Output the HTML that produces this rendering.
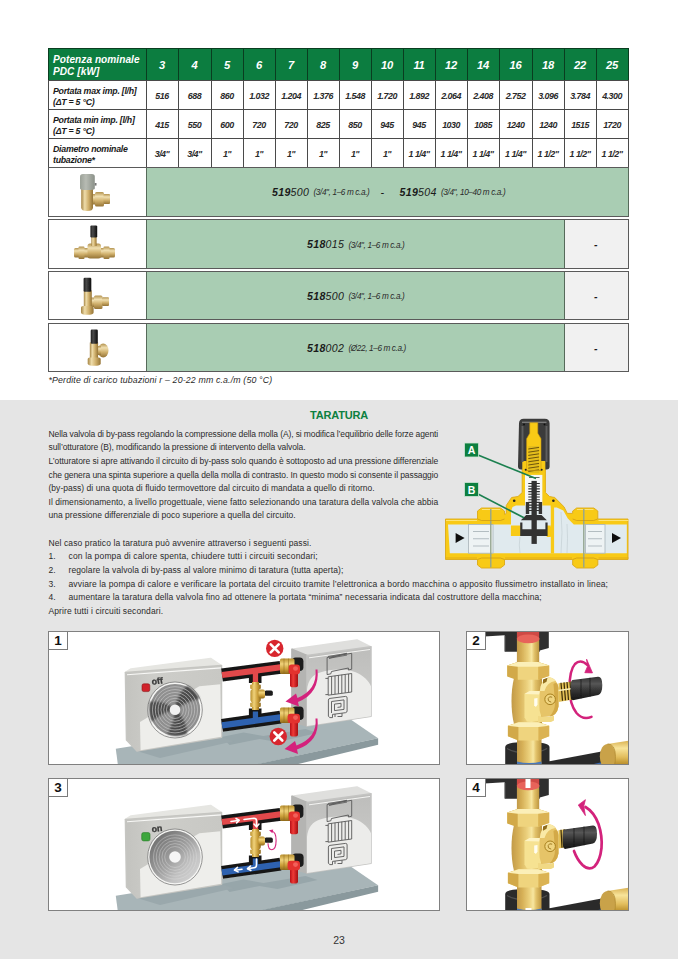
<!DOCTYPE html>
<html>
<head>
<meta charset="utf-8">
<title>Taratura</title>
<style>
html,body{margin:0;padding:0;}
body{width:678px;height:959px;position:relative;overflow:hidden;background:#fff;font-family:"Liberation Sans",sans-serif;color:#1a1a1a;}
.abs{position:absolute;}
#gray{left:0;top:400px;width:678px;height:559px;background:#e5e5e5;}
.cell{position:absolute;box-sizing:border-box;border:1px solid #3c3c3c;background:#fff;}
.hd{background:#0b7a3d;border-color:#06341b;}
.num{font-style:italic;font-weight:bold;font-size:8.9px;text-align:center;color:#2a2a2a;letter-spacing:-0.5px;}
.hnum{font-style:italic;font-weight:bold;font-size:11.2px;text-align:center;color:#fff;letter-spacing:-0.3px;}
.lab{font-style:italic;font-weight:bold;font-size:8.8px;line-height:10.8px;color:#1a1a1a;white-space:nowrap;letter-spacing:-0.27px;}
.prow{position:absolute;left:48px;width:581px;box-sizing:border-box;border:1px solid #5a5a5a;background:#fff;}
.grn{position:absolute;top:0;bottom:0;background:#a9cdb3;border-left:1px solid #566a5a;border-right:1px solid #566a5a;}
.code{position:absolute;white-space:nowrap;font-style:italic;font-size:10.6px;color:#1a1a1a;letter-spacing:0.3px;}
.code b{font-weight:bold;}
.code small{font-size:8.2px;letter-spacing:-0.36px;color:#2a2a2a;margin-left:1px;position:relative;top:-0.3px;}
.p{position:absolute;white-space:nowrap;font-size:8.5px;color:#2b2b2b;}
.box{position:absolute;box-sizing:border-box;border:1px solid #808080;background:#fff;overflow:hidden;}
.tag{position:absolute;left:0;top:0;width:18px;height:17px;border-right:1px solid #7a7a7a;border-bottom:1px solid #7a7a7a;background:#fff;font-weight:bold;font-size:13.5px;line-height:17px;text-align:center;color:#111;}
</style>
</head>
<body>

<div class="abs" style="left:48px;top:48px;width:581px;height:33px;background:#0c7d40"></div>
<div class="abs" style="left:48px;top:48px;width:581px;height:1px;background:#0a3d20"></div>
<div class="abs" style="left:48px;top:80px;width:581px;height:1px;background:#4a4a4a"></div>
<div class="abs" style="left:48px;top:109px;width:581px;height:1px;background:#4a4a4a"></div>
<div class="abs" style="left:48px;top:138px;width:581px;height:1px;background:#4a4a4a"></div>
<div class="abs" style="left:48px;top:167px;width:581px;height:1px;background:#4a4a4a"></div>
<div class="abs" style="left:48px;top:48px;width:1px;height:120px;background:#4a4a4a"></div>
<div class="abs" style="left:48px;top:48px;width:1px;height:32px;background:#0a3d20"></div>
<div class="abs" style="left:146px;top:48px;width:1px;height:120px;background:#4a4a4a"></div>
<div class="abs" style="left:146px;top:48px;width:1px;height:32px;background:#0a3d20"></div>
<div class="abs" style="left:178px;top:48px;width:1px;height:120px;background:#4a4a4a"></div>
<div class="abs" style="left:178px;top:48px;width:1px;height:32px;background:#0a3d20"></div>
<div class="abs" style="left:211px;top:48px;width:1px;height:120px;background:#4a4a4a"></div>
<div class="abs" style="left:211px;top:48px;width:1px;height:32px;background:#0a3d20"></div>
<div class="abs" style="left:243px;top:48px;width:1px;height:120px;background:#4a4a4a"></div>
<div class="abs" style="left:243px;top:48px;width:1px;height:32px;background:#0a3d20"></div>
<div class="abs" style="left:275px;top:48px;width:1px;height:120px;background:#4a4a4a"></div>
<div class="abs" style="left:275px;top:48px;width:1px;height:32px;background:#0a3d20"></div>
<div class="abs" style="left:307px;top:48px;width:1px;height:120px;background:#4a4a4a"></div>
<div class="abs" style="left:307px;top:48px;width:1px;height:32px;background:#0a3d20"></div>
<div class="abs" style="left:339px;top:48px;width:1px;height:120px;background:#4a4a4a"></div>
<div class="abs" style="left:339px;top:48px;width:1px;height:32px;background:#0a3d20"></div>
<div class="abs" style="left:371px;top:48px;width:1px;height:120px;background:#4a4a4a"></div>
<div class="abs" style="left:371px;top:48px;width:1px;height:32px;background:#0a3d20"></div>
<div class="abs" style="left:403px;top:48px;width:1px;height:120px;background:#4a4a4a"></div>
<div class="abs" style="left:403px;top:48px;width:1px;height:32px;background:#0a3d20"></div>
<div class="abs" style="left:435px;top:48px;width:1px;height:120px;background:#4a4a4a"></div>
<div class="abs" style="left:435px;top:48px;width:1px;height:32px;background:#0a3d20"></div>
<div class="abs" style="left:467px;top:48px;width:1px;height:120px;background:#4a4a4a"></div>
<div class="abs" style="left:467px;top:48px;width:1px;height:32px;background:#0a3d20"></div>
<div class="abs" style="left:499px;top:48px;width:1px;height:120px;background:#4a4a4a"></div>
<div class="abs" style="left:499px;top:48px;width:1px;height:32px;background:#0a3d20"></div>
<div class="abs" style="left:532px;top:48px;width:1px;height:120px;background:#4a4a4a"></div>
<div class="abs" style="left:532px;top:48px;width:1px;height:32px;background:#0a3d20"></div>
<div class="abs" style="left:564px;top:48px;width:1px;height:120px;background:#4a4a4a"></div>
<div class="abs" style="left:564px;top:48px;width:1px;height:32px;background:#0a3d20"></div>
<div class="abs" style="left:596px;top:48px;width:1px;height:120px;background:#4a4a4a"></div>
<div class="abs" style="left:596px;top:48px;width:1px;height:32px;background:#0a3d20"></div>
<div class="abs" style="left:628px;top:48px;width:1px;height:120px;background:#4a4a4a"></div>
<div class="abs" style="left:628px;top:48px;width:1px;height:32px;background:#0a3d20"></div>
<div class="abs lab" id="lab0" style="left:53px;top:54.00px;color:#fff;font-size:10.1px;line-height:12.3px;letter-spacing:0.05px">Potenza nominale<br>PDC [kW]</div>
<div class="abs hnum" style="left:146px;top:59.00px;width:32px;line-height:12px">3</div>
<div class="abs hnum" style="left:178px;top:59.00px;width:33px;line-height:12px">4</div>
<div class="abs hnum" style="left:211px;top:59.00px;width:32px;line-height:12px">5</div>
<div class="abs hnum" style="left:243px;top:59.00px;width:32px;line-height:12px">6</div>
<div class="abs hnum" style="left:275px;top:59.00px;width:32px;line-height:12px">7</div>
<div class="abs hnum" style="left:307px;top:59.00px;width:32px;line-height:12px">8</div>
<div class="abs hnum" style="left:339px;top:59.00px;width:32px;line-height:12px">9</div>
<div class="abs hnum" style="left:371px;top:59.00px;width:32px;line-height:12px">10</div>
<div class="abs hnum" style="left:403px;top:59.00px;width:32px;line-height:12px">11</div>
<div class="abs hnum" style="left:435px;top:59.00px;width:32px;line-height:12px">12</div>
<div class="abs hnum" style="left:467px;top:59.00px;width:32px;line-height:12px">14</div>
<div class="abs hnum" style="left:499px;top:59.00px;width:33px;line-height:12px">16</div>
<div class="abs hnum" style="left:532px;top:59.00px;width:32px;line-height:12px">18</div>
<div class="abs hnum" style="left:564px;top:59.00px;width:32px;line-height:12px">22</div>
<div class="abs hnum" style="left:596px;top:59.00px;width:32px;line-height:12px">25</div>
<div class="abs lab" id="lab1" style="left:53px;top:86.00px">Portata max imp. [l/h]<br>(&Delta;T = 5 &deg;C)</div>
<div class="abs num" style="left:146px;top:91.10px;width:32px;line-height:10px">516</div>
<div class="abs num" style="left:178px;top:91.10px;width:33px;line-height:10px">688</div>
<div class="abs num" style="left:211px;top:91.10px;width:32px;line-height:10px">860</div>
<div class="abs num" style="left:243px;top:91.10px;width:32px;line-height:10px">1.032</div>
<div class="abs num" style="left:275px;top:91.10px;width:32px;line-height:10px">1.204</div>
<div class="abs num" style="left:307px;top:91.10px;width:32px;line-height:10px">1.376</div>
<div class="abs num" style="left:339px;top:91.10px;width:32px;line-height:10px">1.548</div>
<div class="abs num" style="left:371px;top:91.10px;width:32px;line-height:10px">1.720</div>
<div class="abs num" style="left:403px;top:91.10px;width:32px;line-height:10px">1.892</div>
<div class="abs num" style="left:435px;top:91.10px;width:32px;line-height:10px">2.064</div>
<div class="abs num" style="left:467px;top:91.10px;width:32px;line-height:10px">2.408</div>
<div class="abs num" style="left:499px;top:91.10px;width:33px;line-height:10px">2.752</div>
<div class="abs num" style="left:532px;top:91.10px;width:32px;line-height:10px">3.096</div>
<div class="abs num" style="left:564px;top:91.10px;width:32px;line-height:10px">3.784</div>
<div class="abs num" style="left:596px;top:91.10px;width:32px;line-height:10px">4.300</div>
<div class="abs lab" id="lab2" style="left:53px;top:115.00px">Portata min imp. [l/h]<br>(&Delta;T = 5 &deg;C)</div>
<div class="abs num" style="left:146px;top:120.10px;width:32px;line-height:10px">415</div>
<div class="abs num" style="left:178px;top:120.10px;width:33px;line-height:10px">550</div>
<div class="abs num" style="left:211px;top:120.10px;width:32px;line-height:10px">600</div>
<div class="abs num" style="left:243px;top:120.10px;width:32px;line-height:10px">720</div>
<div class="abs num" style="left:275px;top:120.10px;width:32px;line-height:10px">720</div>
<div class="abs num" style="left:307px;top:120.10px;width:32px;line-height:10px">825</div>
<div class="abs num" style="left:339px;top:120.10px;width:32px;line-height:10px">850</div>
<div class="abs num" style="left:371px;top:120.10px;width:32px;line-height:10px">945</div>
<div class="abs num" style="left:403px;top:120.10px;width:32px;line-height:10px">945</div>
<div class="abs num" style="left:435px;top:120.10px;width:32px;line-height:10px">1030</div>
<div class="abs num" style="left:467px;top:120.10px;width:32px;line-height:10px">1085</div>
<div class="abs num" style="left:499px;top:120.10px;width:33px;line-height:10px">1240</div>
<div class="abs num" style="left:532px;top:120.10px;width:32px;line-height:10px">1240</div>
<div class="abs num" style="left:564px;top:120.10px;width:32px;line-height:10px">1515</div>
<div class="abs num" style="left:596px;top:120.10px;width:32px;line-height:10px">1720</div>
<div class="abs lab" id="lab3" style="left:53px;top:144.00px">Diametro nominale<br>tubazione*</div>
<div class="abs num" style="left:146px;top:149.10px;width:32px;line-height:10px">3/4&quot;</div>
<div class="abs num" style="left:178px;top:149.10px;width:33px;line-height:10px">3/4&quot;</div>
<div class="abs num" style="left:211px;top:149.10px;width:32px;line-height:10px">1&quot;</div>
<div class="abs num" style="left:243px;top:149.10px;width:32px;line-height:10px">1&quot;</div>
<div class="abs num" style="left:275px;top:149.10px;width:32px;line-height:10px">1&quot;</div>
<div class="abs num" style="left:307px;top:149.10px;width:32px;line-height:10px">1&quot;</div>
<div class="abs num" style="left:339px;top:149.10px;width:32px;line-height:10px">1&quot;</div>
<div class="abs num" style="left:371px;top:149.10px;width:32px;line-height:10px">1&quot;</div>
<div class="abs num" style="left:403px;top:149.10px;width:32px;line-height:10px">1 1/4&quot;</div>
<div class="abs num" style="left:435px;top:149.10px;width:32px;line-height:10px">1 1/4&quot;</div>
<div class="abs num" style="left:467px;top:149.10px;width:32px;line-height:10px">1 1/4&quot;</div>
<div class="abs num" style="left:499px;top:149.10px;width:33px;line-height:10px">1 1/4&quot;</div>
<div class="abs num" style="left:532px;top:149.10px;width:32px;line-height:10px">1 1/2&quot;</div>
<div class="abs num" style="left:564px;top:149.10px;width:32px;line-height:10px">1 1/2&quot;</div>
<div class="abs num" style="left:596px;top:149.10px;width:32px;line-height:10px">1 1/2&quot;</div>
<div class="prow" style="top:167px;height:50px">
  <div class="grn" style="left:97px;right:-1px"></div>
  <div class="code" style="left:223px;top:17.6px"><b>519</b>500 <small>(3/4", 1&ndash;6 m c.a.)</small></div>
  <div class="code" style="left:331.5px;top:17.6px">-</div>
  <div class="code" style="left:350.5px;top:17.6px"><b>519</b>504 <small>(3/4", 10&ndash;40 m c.a.)</small></div>
</div>
<div class="prow" style="top:219px;height:50px">
  <div class="grn" style="left:97px;width:417px"></div>
  <div class="abs" style="left:516px;top:0;bottom:0;right:0;background:#f1f1f1"></div>
  <div class="code" style="left:258px;top:18px"><b>518</b>015 <small>(3/4", 1&ndash;6 m c.a.)</small></div>
  <div class="code" style="left:545px;top:18px;font-weight:bold">-</div>
</div>
<div class="prow" style="top:271px;height:49px">
  <div class="grn" style="left:97px;width:417px"></div>
  <div class="abs" style="left:516px;top:0;bottom:0;right:0;background:#f1f1f1"></div>
  <div class="code" style="left:258px;top:17.5px"><b>518</b>500 <small>(3/4", 1&ndash;6 m c.a.)</small></div>
  <div class="code" style="left:545px;top:17.5px;font-weight:bold">-</div>
</div>
<div class="prow" style="top:323px;height:49px">
  <div class="grn" style="left:97px;width:417px"></div>
  <div class="abs" style="left:516px;top:0;bottom:0;right:0;background:#f1f1f1"></div>
  <div class="code" style="left:258px;top:17.5px"><b>518</b>002 <small>(&Oslash;22, 1&ndash;6 m c.a.)</small></div>
  <div class="code" style="left:545px;top:17.5px;font-weight:bold">-</div>
</div>
<div class="abs" style="left:48.5px;top:375.3px;font-style:italic;font-size:8.8px;color:#2a2a2a;white-space:nowrap;letter-spacing:0.145px">*Perdite di carico tubazioni r &ndash; 20-22 mm c.a./m (50 &deg;C)</div>
<div class="abs" id="gray"></div>

<svg class="abs" style="left:49px;top:168px" width="97" height="204" viewBox="49 168 97 204">
<defs>
<linearGradient id="bv" x1="0" x2="1" y1="0" y2="0"><stop offset="0" stop-color="#a58443"/><stop offset=".3" stop-color="#eedcaa"/><stop offset=".62" stop-color="#d0b06c"/><stop offset="1" stop-color="#957436"/></linearGradient>
<linearGradient id="bh" x1="0" x2="0" y1="0" y2="1"><stop offset="0" stop-color="#b3924e"/><stop offset=".3" stop-color="#f0dfb0"/><stop offset=".62" stop-color="#d0b06c"/><stop offset="1" stop-color="#957436"/></linearGradient>
<linearGradient id="kv" x1="0" x2="1" y1="0" y2="0"><stop offset="0" stop-color="#1a1a1a"/><stop offset=".35" stop-color="#4a4a4a"/><stop offset="1" stop-color="#0d0d0d"/></linearGradient>
<linearGradient id="gv" x1="0" x2="1" y1="0" y2="0"><stop offset="0" stop-color="#9aa097"/><stop offset=".4" stop-color="#b7bbb3"/><stop offset="1" stop-color="#8b9189"/></linearGradient>
<filter id="sf" x="-10%" y="-10%" width="120%" height="120%"><feGaussianBlur stdDeviation="0.35"/></filter>
</defs>
<g filter="url(#sf)">
<!-- product 1 -->
<rect x="92" y="194" width="10" height="10.5" rx="1" fill="url(#bh)"/>
<rect x="95" y="192" width="9" height="14.5" rx="1.5" fill="url(#bh)"/>
<rect x="103.5" y="194" width="6.5" height="10" rx="1" fill="url(#bh)"/>
<path d="M81.2 188h11.8v19.5q0 3.5-5.9 3.5t-5.9-3.5z" fill="url(#bv)"/>
<rect x="94.5" y="183" width="2" height="2.6" fill="#777"/>
<path d="M80 176.5q0-2.5 3-2.5h8.8q3 0 3 2.500v12q0 1.500-7.400 1.500t-7.400-1.500z" fill="url(#gv)"/>
<!-- product 2 -->
<rect x="74" y="248" width="41" height="9.500" rx="1.5" fill="url(#bh)"/>
<rect x="78.500" y="246.500" width="6" height="12.500" rx="1" fill="url(#bh)"/>
<rect x="103.500" y="246.500" width="6" height="12.500" rx="1" fill="url(#bh)"/>
<rect x="87.500" y="243.500" width="13.500" height="15" rx="2.500" fill="url(#bh)"/>
<rect x="91.300" y="236" width="5.300" height="10" fill="url(#bv)"/>
<rect x="90.400" y="225.400" width="6.800" height="12" rx="1.200" fill="url(#kv)"/>
<!-- product 3 -->
<rect x="91" y="297.500" width="9" height="9.500" fill="url(#bh)"/>
<rect x="94" y="295.400" width="8.500" height="13.600" rx="1.500" fill="url(#bh)"/>
<rect x="102" y="297.300" width="7" height="8.700" rx="1" fill="url(#bh)"/>
<rect x="83.800" y="290.500" width="8" height="18" fill="url(#bv)"/>
<path d="M81 307.500q0-1.500 2-1.500h8.600q2 0 2 1.500v5q0 2.300-6.300 2.300t-6.300-2.300z" fill="url(#bv)"/>
<rect x="83.600" y="277.700" width="7.700" height="14" rx="1.200" fill="url(#kv)"/>
<!-- product 4 -->
<ellipse cx="103.200" cy="350.500" rx="5.300" ry="6.900" fill="url(#bh)"/>
<rect x="96" y="346" width="5" height="9" fill="url(#bh)"/>
<rect x="89.800" y="342.500" width="8.300" height="17" fill="url(#bv)"/>
<path d="M87.700 359q0-1.500 2-1.500h9q2 0 2 1.500v4.500q0 2.300-6.500 2.300t-6.500-2.300z" fill="url(#bv)"/>
<rect x="90.700" y="329.600" width="7.100" height="14.200" rx="1.200" fill="url(#kv)"/>
</g>
</svg>

<div class="abs" style="left:239px;width:200px;top:408.3px;text-align:center;font-weight:bold;font-size:11px;color:#0c8040;letter-spacing:-0.18px;line-height:14px">TARATURA</div>
<div class="p" style="left:48.5px;top:427.55px;letter-spacing:-0.117px;line-height:12px">Nella valvola di by-pass regolando la compressione della molla (A), si modifica l’equilibrio delle forze agenti</div>
<div class="p" style="left:48.5px;top:441.20px;letter-spacing:-0.090px;line-height:12px">sull’otturatore (B), modificando la pressione di intervento della valvola.</div>
<div class="p" style="left:48.5px;top:454.85px;letter-spacing:-0.065px;line-height:12px">L’otturatore si apre attivando il circuito di by-pass solo quando è sottoposto ad una pressione differenziale</div>
<div class="p" style="left:48.5px;top:468.50px;letter-spacing:-0.091px;line-height:12px">che genera una spinta superiore a quella della molla di contrasto. In questo modo si consente il passaggio</div>
<div class="p" style="left:48.5px;top:482.15px;letter-spacing:0.029px;line-height:12px">(by-pass) di una quota di fluido termovettore dal circuito di mandata a quello di ritorno.</div>
<div class="p" style="left:48.5px;top:495.80px;letter-spacing:0.049px;line-height:12px">Il dimensionamento, a livello progettuale, viene fatto selezionando una taratura della valvola che abbia</div>
<div class="p" style="left:48.5px;top:509.45px;letter-spacing:0.010px;line-height:12px">una pressione differenziale di poco superiore a quella del circuito.</div>
<div class="p" style="left:48.5px;top:536.75px;letter-spacing:0.099px;line-height:12px">Nel caso pratico la taratura può avvenire attraverso i seguenti passi.</div>
<div class="p" style="left:68.5px;top:550.40px;letter-spacing:0.153px;line-height:12px">con la pompa di calore spenta, chiudere tutti i circuiti secondari;</div>
<div class="p" style="left:48.5px;top:550.40px;line-height:12px">1.</div>
<div class="p" style="left:68.5px;top:564.05px;letter-spacing:0.087px;line-height:12px">regolare la valvola di by-pass al valore minimo di taratura (tutta aperta);</div>
<div class="p" style="left:48.5px;top:564.05px;line-height:12px">2.</div>
<div class="p" style="left:68.5px;top:577.70px;letter-spacing:0.133px;line-height:12px">avviare la pompa di calore e verificare la portata del circuito tramite l’elettronica a bordo macchina o apposito flussimetro installato in linea;</div>
<div class="p" style="left:48.5px;top:577.70px;line-height:12px">3.</div>
<div class="p" style="left:68.5px;top:591.35px;letter-spacing:0.125px;line-height:12px">aumentare la taratura della valvola fino ad ottenere la portata “minima” necessaria indicata dal costruttore della macchina;</div>
<div class="p" style="left:48.5px;top:591.35px;line-height:12px">4.</div>
<div class="p" style="left:48.5px;top:605.00px;letter-spacing:0.106px;line-height:12px">Aprire tutti i circuiti secondari.</div>

<svg class="abs" style="left:440px;top:405px" width="200" height="170" viewBox="440 405 200 170">
<defs>
<filter id="df" x="-5%" y="-5%" width="110%" height="110%"><feGaussianBlur stdDeviation="0.35"/></filter>
</defs>
<g filter="url(#df)">
<!-- yellow body silhouette -->
<path d="M445.500 519h32v-8l4-3h19l4 3v3.500l1.800-1.100v-8l5.300-7.900 6.400-1 4.200-4v-32h23.200v32l4.100 4 5.200 1 9.300 9.300 3.300 6.600h5.400v-2.400l4-3h17.100l4 3v8h30.200v40.500h-30.200v5.500l-4 3h-17.100l-4-3v-5.500h-68.200v5.500l-4 3h-19l-4-3v-5.500h-32z" fill="#f8ca18" stroke="#dca915" stroke-width="0.900" stroke-linejoin="round"/>
<!-- highlights on yellow -->
<path d="M446 520.500h31M598.500 520.500h30M482 509.500h18M577 509.500h16.500" stroke="#fde477" stroke-width="1.200"/>
<path d="M446 558h31M598.500 558h30M505 558h67" stroke="#e2ab12" stroke-width="1.200"/>
<!-- channels -->
<path d="M448 524.500h63v-13l1.500-4.500 3.500-1.500h9v-30.500h17.200v30.500h8.600v20h-4v11.500h4v-29.500h6l6.500 3 4.500 8 6 6h53v28.700h-177z" fill="#e0eaee"/>
<rect x="525" y="474.900" width="17.200" height="30" fill="#f6f8f8"/>
<!-- seat pieces -->
<path d="M510.900 525.400h10v10.600h-10z" fill="#f8ca18"/>
<path d="M550.800 505h3.300v48.500h-3.300z" fill="#f8ca18"/>
<path d="M546.800 527h5v9.500h-5z" fill="#f8ca18"/>
<!-- faint section lines -->
<path d="M520 537q-1.500 8 0 16M561 512q2 20 0 41M567 524q1 14 0 29" stroke="#b9c4c8" stroke-width="0.500" fill="none"/>
<!-- sleeves -->
<rect x="468.500" y="524.500" width="24.500" height="28.700" fill="#eef3f4" stroke="#a9b4b8" stroke-width="0.800"/>
<path d="M473 531.500h16M473 538.800h16M473 546h16" stroke="#b3bdc1" stroke-width="1.100"/>
<rect x="585.500" y="524.500" width="19.500" height="28.700" fill="#eef3f4" stroke="#a9b4b8" stroke-width="0.800"/>
<path d="M588 531.500h14M588 538.800h14M588 546h14" stroke="#b3bdc1" stroke-width="1.100"/>
<path d="M490.800 509v58.500M583.800 509v58.500" stroke="#93a58f" stroke-width="1.400"/>
<path d="M477.500 519l4 1.500h19l4-1.500M477.500 559.500l4-1.500h19l4 1.500M572.700 519l4 1.500h17l4-1.500M572.700 559.500l4-1.500h17l4 1.500" stroke="#c99712" stroke-width="0.700" fill="none"/>
<!-- arrows -->
<path d="M455.600 533l9 5-9 5z" fill="#111"/>
<path d="M612 533l9 5-9 5z" fill="#111"/>
<!-- cap -->
<path d="M519 423.500q0-4.800 4.800-4.800h21q4.800 0 4.800 4.800v43q0 3-3 3h-1.200v-8.500h-23.200v8.500h-1.200q-3 0-3-3z" fill="#3b3b3b"/>
<path d="M522.500 426v36M546.500 426v36" stroke="#5e5e5e" stroke-width="2"/>
<path d="M522 422.300h24.500" stroke="#7d7d7d" stroke-width="1.300"/>
<circle cx="524" cy="424.500" r="1" fill="#111"/><circle cx="544.500" cy="424.500" r="1" fill="#111"/>
<!-- yellow stem in cap -->
<path d="M529.800 422.700h8v10.500l3.200 5.500v32h-14.400v-32l3.200-5.500z" fill="#f8ca18" stroke="#c4950f" stroke-width="0.600"/>
<rect x="528.300" y="446" width="10.800" height="27" fill="#e3bd1d"/>
<path d="M528.300 449l10.800-1.600M528.300 452.200l10.800-1.600M528.300 455.400l10.800-1.600M528.300 458.600l10.800-1.600M528.300 461.800l10.800-1.600M528.300 465l10.800-1.600M528.300 468.200l10.800-1.600M528.300 471.400l10.800-1.600" stroke="#6e540c" stroke-width="1"/>
<path d="M526.600 470.500h14.400" stroke="#c4950f" stroke-width="0.800"/>
<circle cx="525.700" cy="469.800" r="1" fill="#222"/><circle cx="541.700" cy="469.800" r="1" fill="#222"/>
<!-- spring/stem black -->
<path d="M531.500 480.900h5.300v63h-5.300z" fill="#303030"/>
<path d="M528.300 483.500h11.500M528.300 486.200h11.500M528.300 488.900h11.500M528.300 491.600h11.500M528.300 494.300h11.500M528.300 497h11.500M528.300 499.700h11.500M528.300 502.400h11.500M528.300 505.100h11.500M528.300 507.800h11.500M528.300 510.500h11.500" stroke="#303030" stroke-width="1.100"/>
<path d="M529 477.500h10.500" stroke="#555" stroke-width="0.900"/>
<!-- holder -->
<path d="M525.800 502.100h3.400v12h-3.400zM538.700 502.100h3.400v12h-3.400z" fill="#353535"/>
<!-- disc -->
<path d="M520.900 520.300l5.300-5.200h15.300l5.300 5.200z" fill="#303030"/>
<!-- cup -->
<path d="M520.200 522.500h2.200v6.800h23v-6.800h2.200v13.500h-27.400z" fill="#333"/>
<circle cx="514.200" cy="500.800" r="1.300" fill="#222"/><circle cx="553.400" cy="500.800" r="1.300" fill="#222"/>
<!-- leader lines -->
<path d="M478 455l58 23.500" stroke="#1c8050" stroke-width="1.600" fill="none"/>
<path d="M478 494l46 23.800" stroke="#1c8050" stroke-width="1.600" fill="none"/>
<!-- labels -->
<rect x="464.500" y="443" width="14" height="14" fill="#0f8040" stroke="#cfe6d8" stroke-width="0.800"/>
<rect x="464.500" y="482.500" width="14" height="14" fill="#0f8040" stroke="#cfe6d8" stroke-width="0.800"/>
</g>
<text x="471.500" y="454" font-family="Liberation Sans, sans-serif" font-weight="bold" font-size="10.500" fill="#fff" text-anchor="middle">A</text>
<text x="471.500" y="493.500" font-family="Liberation Sans, sans-serif" font-weight="bold" font-size="10.500" fill="#fff" text-anchor="middle">B</text>
</svg>

<!-- BOX 1 -->
<div class="box" style="left:48px;top:631px;width:392px;height:134px">
<svg class="abs" style="left:-1px;top:-1px" width="392" height="134" viewBox="48 631 392 134">
<defs>
<linearGradient id="uf" x1="0" x2="1" y1="0" y2="0"><stop offset="0" stop-color="#c3c3bf"/><stop offset=".3" stop-color="#cdcdc9"/><stop offset="1" stop-color="#c8c8c4"/></linearGradient>
<linearGradient id="bf" x1="0" x2="0" y1="0" y2="1"><stop offset="0" stop-color="#bdbdbb"/><stop offset="1" stop-color="#cfcfcd"/></linearGradient>
<linearGradient id="brv" x1="0" x2="0" y1="0" y2="1"><stop offset="0" stop-color="#b88f2e"/><stop offset=".35" stop-color="#f0d27a"/><stop offset=".7" stop-color="#c99d38"/><stop offset="1" stop-color="#8f6a1c"/></linearGradient>
<linearGradient id="brh" x1="0" x2="1" y1="0" y2="0"><stop offset="0" stop-color="#b88f2e"/><stop offset=".35" stop-color="#f0d27a"/><stop offset=".7" stop-color="#c99d38"/><stop offset="1" stop-color="#8f6a1c"/></linearGradient>
<linearGradient id="rdh" x1="0" x2="1" y1="0" y2="0"><stop offset="0" stop-color="#b81218"/><stop offset=".4" stop-color="#ee3a36"/><stop offset="1" stop-color="#a50e14"/></linearGradient>
<radialGradient id="fang" cx=".5" cy=".5" r=".5"><stop offset="0" stop-color="#9a9a9a"/><stop offset=".7" stop-color="#7d7d7d"/><stop offset="1" stop-color="#6a6a6a"/></radialGradient>
<linearGradient id="fang2" x1="0.1" y1="0.1" x2="0.9" y2="0.9"><stop offset="0" stop-color="#6e6e6e"/><stop offset=".5" stop-color="#a2a2a2"/><stop offset=".75" stop-color="#c2c2c2"/><stop offset="1" stop-color="#d2d2d2"/></linearGradient>
<filter id="bl" x="-5%" y="-5%" width="110%" height="110%"><feGaussianBlur stdDeviation="0.4"/></filter>
<filter id="bl2" x="-10%" y="-10%" width="120%" height="120%"><feGaussianBlur stdDeviation="0.9"/></filter>
<g id="scene">
  <!-- platform -->
  <path d="M115.800 748.800L340.800 712.800l37.300 25.400L249.800 766H118z" fill="#a8b5b8"/>
  <path d="M378.100 738.200v6.600L290 766h-42z" fill="#8a999d"/>
  <!-- shadows -->
  <path d="M221.500 737l22-4.500 20 3.500 18-3 24-4 12 4-40 9-18-3-30 6z" fill="#97a6aa"/>
  <path d="M137 751l84.500-13.700 12 4L160 758z" fill="#9aa8ac"/>
  <!-- outdoor unit -->
  <path d="M125.400 672.400L131 669l79.600-10.500 10.900 7.100z" fill="#e6e6e2" stroke="#e6e6e2" stroke-width="1.500" stroke-linejoin="round"/>
  <path d="M125.400 672.400l96.100-6.800v71.700L137 751l-10.500-11z" fill="url(#uf)" stroke="#c6c6c2" stroke-width="1.500" stroke-linejoin="round"/>
  <path d="M140 722l59.300-35.700 21-2 .9 52.400-80.600 13.600z" fill="#eeeeeb"/>
  <path d="M127 674.800l94-6.900" stroke="#f8f8f6" stroke-width="1.100"/>
  <!-- pipes -->
  <path d="M222 675l58.500-7.700" stroke="#161616" stroke-width="12.900" fill="none"/>
  <path d="M222 725.400l58.500-8.200" stroke="#161616" stroke-width="12.900" fill="none"/>
  <path d="M248.900 675h12.600v8h-12.600zM248.900 708.400h12.600v10h-12.600z" fill="#161616"/>
  <path d="M222 675l58.500-7.700" stroke="#e2484b" stroke-width="6.200" fill="none"/>
  <path d="M222 725.400l58.500-8.200" stroke="#2f62b0" stroke-width="6.200" fill="none"/>
  <path d="M252.800 671h5.300v11.500h-5.300z" fill="#e2484b"/>
  <path d="M252.800 711.500h5.300v10h-5.300z" fill="#2f62b0"/>
  <!-- bypass valve -->
  <rect x="264.500" y="690.600" width="8.300" height="5.200" rx="1.600" fill="#1c1c1c"/>
  <rect x="252" y="682" width="7" height="28" fill="url(#brh)"/>
  <rect x="250.200" y="684.500" width="10.600" height="4.500" rx="1" fill="url(#brh)"/>
  <rect x="250.200" y="702.500" width="10.600" height="4.500" rx="1" fill="url(#brh)"/>
  <rect x="250.400" y="689" width="10.400" height="13.500" rx="3" fill="url(#brh)"/>
  <rect x="258.500" y="689.500" width="6.500" height="9" rx="2" fill="url(#brv)"/>
  <!-- indoor box -->
  <path d="M291.900 649.300L357 640l14 6.800-64 8.700z" fill="#dfdfdd" stroke="#dfdfdd" stroke-width="1.500" stroke-linejoin="round"/>
  <path d="M291.900 649.300l15.100 6.200V726l-15.100-4.500z" fill="#b4b4b2" stroke="#b4b4b2" stroke-width="1.500" stroke-linejoin="round"/>
  <path d="M307 655.500l64-8.700v69.500L307 726z" fill="url(#bf)" stroke="#c4c4c2" stroke-width="1.500" stroke-linejoin="round"/>
  <path d="M307 690C308 680 313 674.500 320 672.500C330 669 345 668 355 672C363 675 369 681 371 686.300V716.300L307 726z" fill="#ececea"/>
  <path d="M309 657.800l61-8.300" stroke="#f4f4f2" stroke-width="1"/>
  <!-- icons -->
  <g fill="none" stroke="#585858" stroke-width="0.900" stroke-linejoin="round">
   <path d="M327.100 657.500l24.600-4.200v15.900l-3.300.8v-2l-16.900 3.500-.7 2.300-3.700.8z"/>
   <path d="M328 656.500l19-3.200-18 5 18-3.200" stroke-width="0.800"/>
   <path d="M328.200 676.800l23.500-3.300v18.500l-23.500 3.200zM331.600 676.300v18.400M335 675.800v18.400M338.400 675.300v18.400M341.800 674.800v18.400M345.200 674.400v18.400M348.600 673.900v18.400M325.400 678.400h2.800M325.400 694.600h2.800"/>
   <path d="M330 698.400l15.500-2q1.600-.1 1.600 1.500v13q0 1.600-1.600 1.800l-13 1.700v3.200h-2.800l-1.300-1.500v-16q0-1.500 1.600-1.700zM331.500 713v-11.500l12.500-1.600v9.500l-9.500 1.200v-6.500l6.500-.8v3.600l-3.500.5M335 714v3M342 713.200v3.300h-4.500"/>
  </g>
  <!-- fittings -->
  <rect x="292" y="657.400" width="11.400" height="13.600" rx="3.800" fill="#1a1a1a"/>
  <rect x="292" y="706.400" width="11.600" height="13.600" rx="3.800" fill="#1a1a1a"/>
  <rect x="280" y="658.500" width="14.500" height="15.500" rx="1.500" fill="url(#brv)"/>
  <rect x="280" y="707.500" width="14.500" height="15.500" rx="1.500" fill="url(#brv)"/>
  <path d="M284 658.500v15.500M288.500 658.500v15.500M284 707.500v15.500M288.500 707.500v15.500" stroke="#8f6a1c" stroke-width="0.500"/>
  <rect x="290" y="671" width="8" height="16.300" rx="2" fill="url(#rdh)"/>
  <rect x="288.700" y="664.600" width="11.300" height="9.600" rx="3" fill="#e3302f"/>
  <ellipse cx="295.500" cy="668.500" rx="2.500" ry="2.300" fill="#f2605a"/>
  <rect x="290" y="720.500" width="8" height="16" rx="2" fill="url(#rdh)"/>
  <rect x="287.600" y="713.700" width="12.400" height="9.600" rx="3" fill="#e3302f"/>
  <ellipse cx="295.500" cy="717.600" rx="2.500" ry="2.300" fill="#f2605a"/>
</g>
<g id="fanring">
  <ellipse cx="175" cy="710" rx="27.300" ry="28" fill="#f6f6f4" stroke="#6a6a6a" stroke-width="0.700"/>
</g>
</defs>
<g filter="url(#bl)">
<use href="#scene"/>
<use href="#fanring"/>
<!-- fan (stopped) -->
<ellipse cx="175" cy="709.800" rx="25.200" ry="25.900" fill="#8f8f8f"/>
<g fill="#4c4c4c" filter="url(#bl2)">
 <path d="M175 709.800q1-15 12-24 8 4 12.500 13-12 2-24.500 11z"/>
 <path d="M175 709.800q-11-10-25-8-2 10 2 20 9-9 23-12z"/>
 <path d="M175 709.800q12 9 12 24-10 4-20 0 7-10 8-24z"/>
</g>
<g fill="none" stroke="#c4c4c4" stroke-width="0.700">
 <ellipse cx="175" cy="709.800" rx="22.500" ry="23.100"/><ellipse cx="175" cy="709.800" rx="19.700" ry="20.200"/><ellipse cx="175" cy="709.800" rx="16.900" ry="17.300"/><ellipse cx="175" cy="709.800" rx="14.100" ry="14.400"/><ellipse cx="175" cy="709.800" rx="11.300" ry="11.500"/><ellipse cx="175" cy="709.800" rx="8.500" ry="8.700"/>
</g>
<circle cx="175" cy="709.800" r="5.300" fill="#f0f0f0"/>
<!-- off -->
<rect x="142" y="683.800" width="7.800" height="7.800" rx="1.800" fill="#d0202a" stroke="#8c1a1a" stroke-width="0.600"/>
<text x="152" y="684.800" font-family="Liberation Sans, sans-serif" font-weight="bold" font-size="8.800" fill="#3a3a3a" stroke="#3a3a3a" stroke-width="0.350" transform="rotate(-7 151 685)">off</text>
<!-- X marks -->
<circle cx="274.700" cy="648.400" r="8.700" fill="#d8262f"/>
<path d="M270.700 644.400l8 8M278.700 644.400l-8 8" stroke="#fff" stroke-width="2.600" stroke-linecap="round"/>
<circle cx="278.300" cy="736.500" r="8.700" fill="#d8262f"/>
<path d="M274.300 732.500l8 8M282.300 732.500l-8 8" stroke="#fff" stroke-width="2.600" stroke-linecap="round"/>
<!-- magenta arrows -->
<path d="M315.500 669.500q2 20-18 28.500l-1.500-4.500-10.500 8 13.500 5-1-4.500q22-9 19.500-32.500z" fill="#d4237c"/>
<path d="M315.500 718.500q2 19-19 27l-1.500-4.500-10.500 8 13.500 5-1-4.500q23-8 20.500-31z" fill="#d4237c"/>
</g>
</svg>
<div class="tag">1</div>
</div>
<!-- BOX 3 -->
<div class="box" style="left:48px;top:778px;width:392px;height:133px">
<svg class="abs" style="left:-1px;top:-1px" width="392" height="133" viewBox="48 631 392 133">
<g filter="url(#bl)">
<use href="#scene"/>
<use href="#fanring"/>
<ellipse cx="175" cy="710" rx="25.600" ry="26.300" fill="url(#fang2)"/>
<g fill="none" stroke="#dedede" stroke-width="0.500" opacity=".8">
 <ellipse cx="175" cy="710" rx="21.500" ry="22.100"/><ellipse cx="175" cy="710" rx="18.700" ry="19.200"/><ellipse cx="175" cy="710" rx="15.900" ry="16.300"/><ellipse cx="175" cy="710" rx="13.100" ry="13.400"/><ellipse cx="175" cy="710" rx="10.300" ry="10.500"/>
</g>
<circle cx="175" cy="710" r="5.800" fill="#f6f6f6"/>
<!-- on -->
<rect x="141.700" y="685.600" width="8.300" height="8.300" rx="1.800" fill="#3ca63c" stroke="#2a7a2a" stroke-width="0.600"/>
<text x="152" y="685.300" font-family="Liberation Sans, sans-serif" font-weight="bold" font-size="8.800" fill="#3a3a3a" stroke="#3a3a3a" stroke-width="0.350" transform="rotate(-7 151 685)">on</text>
<!-- flow arrows -->
<g stroke="#fff" stroke-width="1.600" fill="none" stroke-linecap="round" stroke-linejoin="round">
 <path d="M231 674.500l7-1"/><path d="M236 671.500l3.200 1.800-2.600 2.600"/>
 <path d="M244 672.500l10-1.300q2.500 0 2.500 2.500v5"/><path d="M254 677l2.500 2.800 2.500-2.800"/>
 <path d="M256.500 712v6q0 2.500-2.500 2.800l-6 .8"/><path d="M250.500 719l-3 2.700 3.400 1.800"/>
 <path d="M242 722.300l-7 1"/><path d="M237.500 720.300l-3 2.800 3.600 1.800"/>
</g>
<!-- small rotation arrow -->
<path d="M271.500 684.300q4.600.200 4.600 9.200t-4.300 9.300q-3.600 0-3.800-6.500" stroke="#d4237c" stroke-width="1.100" fill="none"/>
<path d="M269 683.200l4.200-.8-.8 3.800z" fill="#d4237c"/>
</g>
</svg>
<div class="tag">3</div>
</div>
<!-- BOX 2 -->
<div class="box" style="left:466px;top:631px;width:163px;height:134px">
<svg class="abs" style="left:-1px;top:-1px" width="163" height="134" viewBox="466 631 163 134">
<defs>
<linearGradient id="b2" x1="0" x2="1" y1="0" y2="0"><stop offset="0" stop-color="#c29a48"/><stop offset=".22" stop-color="#d6b057"/><stop offset=".5" stop-color="#ebd07c"/><stop offset=".66" stop-color="#f7e6a0"/><stop offset=".78" stop-color="#e2c26a"/><stop offset="1" stop-color="#bd9640"/></linearGradient>
<linearGradient id="b3" x1="0" x2="0" y1="0" y2="1"><stop offset="0" stop-color="#d9b152"/><stop offset=".3" stop-color="#f8e49a"/><stop offset=".65" stop-color="#e2bd5c"/><stop offset="1" stop-color="#b0841f"/></linearGradient>
<linearGradient id="k2" x1="0" x2="0" y1="0" y2="1"><stop offset="0" stop-color="#303030"/><stop offset=".3" stop-color="#565656"/><stop offset=".6" stop-color="#333"/><stop offset="1" stop-color="#161616"/></linearGradient>
<g id="valve2">
  <!-- top black -->
  <path d="M480 630h68.800v18l-9 2.600v1.200h-35.200v-16.600l-24.600 1.600z" fill="#2e2e2e"/>
  <path d="M505.300 636v15" stroke="#484848" stroke-width="1"/>
  <!-- bottom black -->
  <path d="M505.200 766v-19q0-5 22-5t22.300 5v14.200l56-10.500v15.300z" fill="#2b2b2b"/>
  <path d="M507 748.500q8 4.500 20 4.500t20-4.500" stroke="#505050" stroke-width="1.100" fill="none"/>
  <path d="M585 766l20-4.500v4.500z" fill="#3a68b0"/>
  <!-- right brass fitting -->
  <path d="M607.400 743.900l22.600-3.300v25.400h-22.600z" fill="url(#b3)"/>
  <ellipse cx="607.600" cy="756.600" rx="7.800" ry="12.700" fill="#c9a24a"/>
  <path d="M607.600 743.900q7.800 0 7.800 12.700t-3 9.400" stroke="#b08a30" stroke-width="0.800" fill="none"/>
  <!-- lower pipe -->
  <rect x="517" y="737" width="24.500" height="29" fill="url(#b2)"/>
  <path d="M517 766v-4.500q12 3 24.500 0v4.500z" fill="#4a78ba"/>
  <!-- upper pipe -->
  <path d="M516.900 638v27.500h22.300v-27.500q-11 7-22.300 0z" fill="url(#b2)"/>
  <rect x="516.900" y="630" width="22.300" height="9" fill="#cf4a44"/>
  <ellipse cx="528.200" cy="638.900" rx="11.300" ry="4.300" fill="#e8645a"/>
  
  <!-- body -->
  <path d="M514 678h28v46h-28q-2.500-10-2.500-23t2.500-23z" fill="url(#b2)"/>
  <path d="M524.500 694l5-3h11.500v30.500h-14l-2.500-4z" fill="#f6e292"/>
  <path d="M538 716l12 1 4-1.500v5l-3 1.500h-13z" fill="#f1d985"/>
  <path d="M524.500 694l5-3h11.500l-2 3.500z" fill="#fdf3c4"/>
  <!-- upper nut -->
  <path d="M507.200 665.500l10.500-3.500h20.500l11 3.500v10.500l-11 3.800h-20.500l-10.500-3.800z" fill="#efd47e"/>
  <path d="M507.200 665.500l10.500-3.500v18.300l-10.500-3.800z" fill="#d2a948"/>
  <path d="M538.200 662l11 3.500v10.500l-11 3.800z" fill="#dbb352"/>
  <path d="M507.200 665.500l10.500-3.500h20.500l11 3.500-11 1.200h-20.500z" fill="#fbefb8"/>
  <!-- lower nut -->
  <g transform="translate(0 1.700)">
  <path d="M507.900 724l10.500-3.500h20l10.800 3.500v10.500l-10.800 4.300h-20l-10.500-4.300z" fill="#efd47e"/>
  <path d="M507.900 724l10.500-3.500v18.300l-10.500-4.300z" fill="#d2a948"/>
  <path d="M538.400 720.500l10.800 3.500v10.500l-10.800 4.300z" fill="#dbb352"/>
  <path d="M507.900 724l10.500-3.500h20l10.800 3.500-10.800 1.200h-20z" fill="#fbefb8"/>
  </g>
  <!-- side outlet -->
  <path d="M539.800 691Q541 679.500 549 677.300Q557 678 558.500 688V706.500Q557 715.500 549.500 716.500L541.500 717Q539 711 539.300 704z" fill="#e6c467"/>
  <path d="M539.800 691Q541 679.500 549 677.300Q553 677.600 555.500 681Q547 682 544.500 691z" fill="#f9e9a6"/>
  <path d="M553.500 684Q557.500 680.500 558.500 688V706.500Q557 715.500 549.500 716.500Q555 711 555 703z" fill="#d3a947"/>
  <path d="M543 679.500l4.500-1.700-1 4-3.500 2z" fill="#8f6c1f"/>
  <circle cx="550.100" cy="699.300" r="5.300" fill="#f0d580" stroke="#a8801f" stroke-width="1"/>
  <path d="M552.200 697.200q-3-1.500-4 1.300t3 3.700" stroke="#98731a" stroke-width="0.900" fill="none"/>
  <path d="M534.200 698.500l3.300-.6v6.800l-1.700 2.300-1.600-1.800z" fill="#fffdf0"/>
</g>
</defs>
<g filter="url(#bl)">
<use href="#valve2"/>
<!-- arrow -->
<path d="M591.500 716.800q-8.500 3.700-15-3.800-7-9-7-25 0-18 5.500-24 5.500-5.500 12.500 1" stroke="#d3247b" stroke-width="2.500" fill="none" stroke-linecap="round"/>
<path d="M592.500 672.900l-5.900-13.700.8 7.500-2.600 6z" fill="#d3247b" stroke="#d3247b" stroke-width="0.800" stroke-linejoin="round"/>
<!-- spring -->
<path d="M558.500 683.300l16-2v18l-16 2.700z" fill="#e3c056"/>
<path d="M561 682.800l1.500 18M564 682.400l1.500 18M567 682l1.500 18M570 681.600l1.500 18" stroke="#3a2c08" stroke-width="1.200"/>
<path d="M558.500 690.500l16-2.300" stroke="#fbefb8" stroke-width="1.500"/>
<!-- knob -->
<path d="M572.500 680l25.500-3.300q4.300-.2 4.300 8.300t-4 10l-25.500 5.200q-2.300 0-2.300-10.200t2-10z" fill="url(#k2)"/>
<path d="M581 679v19.500M590 677.800v19" stroke="#151515" stroke-width="0.700"/>
</g>
</svg>
<div class="tag">2</div>
</div>
<!-- BOX 4 -->
<div class="box" style="left:466px;top:778px;width:163px;height:133px">
<svg class="abs" style="left:-1px;top:-1px" width="163" height="133" viewBox="466 631 163 133">
<g filter="url(#bl)">
<use href="#valve2"/>
<rect x="525.500" y="631" width="5" height="10" fill="#fff"/>
<rect x="525.500" y="761" width="6" height="5" fill="#fff"/>
<!-- spring -->
<path d="M558.500 683.300l7-1v18l-7 1.200z" fill="#e3c056"/>
<path d="M561 682.800l1 18M564 682.400l1 18" stroke="#3a2c08" stroke-width="1.200"/>
<!-- knob -->
<path d="M564 682.500l29-4q4-.2 4 8.300t-4 9.700l-28 5.400q-2.500 0-2.500-9.700t1.500-9.700z" fill="url(#k2)"/>
<path d="M574 681v19.200M584 679.500v18.700" stroke="#151515" stroke-width="0.700"/>
<!-- arrow -->
<path d="M585.500 660q8.500 5 13 17 4 12 3 24-1.500 13-7 18.500-5.500 4.500-12-1.500-5.500-5.500-8.500-14" stroke="#d3247b" stroke-width="2.700" fill="none" stroke-linecap="round"/>
<path d="M578.300 658l7.100-5.300-1.600 6.300 1.600 9.600z" fill="#d3247b" stroke="#d3247b" stroke-width="0.800" stroke-linejoin="round"/>
</g>
</svg>
<div class="tag">4</div>
</div>
<div class="abs" style="left:319px;width:40px;top:934px;text-align:center;font-size:10.500px;color:#333;line-height:12px">23</div>

</body>
</html>
